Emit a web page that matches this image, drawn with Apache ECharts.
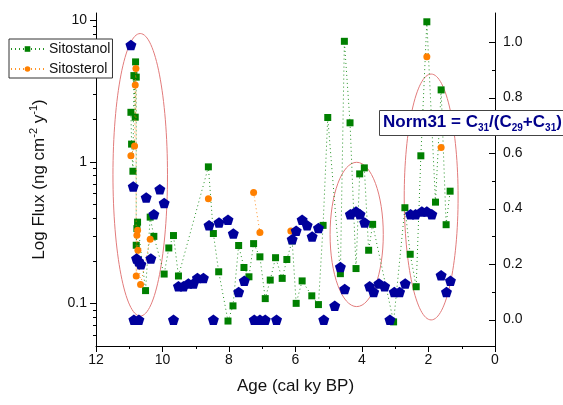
<!DOCTYPE html>
<html><head><meta charset="utf-8">
<script src="https://cdn.jsdelivr.net/npm/echarts/dist/echarts.min.js"></script>
<style>html,body{margin:0;padding:0;background:#fff}#c{width:563px;height:405px}</style>
</head><body><div id="c"></div>
<script>
// ---------------- data ----------------
const stanolAge = [10.95, 10.93, 10.89, 10.86, 10.82, 10.81, 10.79, 10.79, 10.77, 10.75, 10.51, 10.37, 10.26, 9.95, 9.81, 9.67, 9.52, 8.62, 8.47, 8.31, 8.03, 7.88, 7.71, 7.55, 7.40, 7.26, 7.07, 6.91, 6.76, 6.60, 6.40, 6.26, 6.10, 5.98, 5.80, 5.51, 5.31, 5.17, 5.03, 4.65, 4.53, 4.36, 4.18, 4.07, 3.93, 3.80, 3.68, 3.05, 2.71, 2.55, 2.37, 2.23, 2.05, 1.79, 1.62, 1.47, 1.35];
const stanolFlux = [2.23, 1.33, 0.856, 4.05, 2.06, 5.06, 3.95, 0.257, 0.337, 0.374, 0.123, 0.406, 0.297, 0.161, 0.246, 0.301, 0.156, 0.919, 0.311, 0.167, 0.075, 0.096, 0.256, 0.179, 0.154, 0.264, 0.213, 0.108, 0.146, 0.21, 0.15, 0.204, 0.276, 0.100, 0.144, 0.113, 0.098, 0.355, 2.05, 0.162, 7.07, 1.88, 0.176, 0.82, 0.904, 0.237, 0.361, 0.074, 0.473, 0.222, 0.131, 1.10, 9.71, 0.518, 3.21, 0.359, 0.619];

// null = no value (line break)
const sterolAge = [10.95, 10.84, 10.82, 10.80, 10.79, 10.77, 10.75, 10.74, 10.66, 10.37, 9.5, 8.62, 8.0, 7.26, 7.07, 6.6, 6.14, 4.0, 2.05, 1.8, 1.62];
const sterolFlux = [1.10, 1.29, 3.47, 4.54, 0.156, 0.302, 0.328, 0.237, 0.136, 0.283, null, 0.547, null, 0.606, 0.316, null, 0.324, null, 5.51, null, 1.26];

const normAge = [10.95, 10.88, 10.86, 10.78, 10.72, 10.71, 10.65, 10.49, 10.35, 10.26, 10.08, 9.95, 9.67, 9.52, 9.37, 9.22, 9.07, 8.95, 8.77, 8.60, 8.47, 8.30, 8.03, 7.87, 7.71, 7.54, 7.24, 7.07, 6.91, 6.57, 6.10, 5.98, 5.80, 5.65, 5.50, 5.31, 5.15, 4.82, 4.65, 4.52, 4.35, 4.18, 4.06, 3.92, 3.77, 3.65, 3.49, 3.32, 3.16, 3.03, 2.87, 2.70, 2.54, 2.39, 2.20, 2.05, 1.90, 1.62, 1.46, 1.34];
const norm31 = [0.99, 0.48, 0.0, 0.22, 0.21, 0.0, 0.20, 0.44, 0.22, 0.38, 0.47, 0.42, 0.0, 0.12, 0.12, 0.13, 0.13, 0.15, 0.15, 0.34, 0.0, 0.35, 0.36, 0.31, 0.10, 0.14, 0.0, 0.0, 0.0, 0.0, 0.29, 0.32, 0.36, 0.34, 0.30, 0.33, 0.0, 0.05, 0.19, 0.11, 0.38, 0.39, 0.38, 0.35, 0.12, 0.10, 0.13, 0.12, 0.0, 0.10, 0.10, 0.13, 0.38, 0.38, 0.39, 0.39, 0.38, 0.16, 0.10, 0.14];

// annotation ellipses (centre age, centre Norm31, half-width in ky, half-height in Norm31 units)
const ellipseAge = [10.67, 4.16, 1.92];
const ellipseNorm = [0.522, 0.307, 0.442];
const ellipseHalfAge = [0.82, 0.80, 0.81];
const ellipseHalfNorm = [0.509, 0.260, 0.443];

// axis ticks
const leftMajorTicks = [0.1, 1, 10];
const leftMinorTicks = [0.06, 0.07, 0.08, 0.09, 0.2, 0.3, 0.4, 0.5, 0.6, 0.7, 0.8, 0.9, 2, 3, 4, 5, 6, 7, 8, 9];
const rightMajorTicks = [0, 0.2, 0.4, 0.6, 0.8, 1.0];
const rightMinorTicks = [0.1, 0.3, 0.5, 0.7, 0.9];

// ---------------- chart ----------------
const FONT = 'Liberation Sans, Arial, sans-serif';
const GREEN = '#008000', ORANGE = '#ff8000', BLUE = '#00009c', TXT = '#111';
const AGE_MIN = 0, AGE_MAX = 12;
const PENTA = 'path://M0,-1 L0.951,-0.309 L0.588,0.809 L-0.588,0.809 L-0.951,-0.309 Z';

const pairs = (xs, ys) => xs.map((x, i) => [x, ys[i]]);

function tickSeries(vals, axisIdx, ageAt, len, dir) {
  return {
    type: 'custom', yAxisIndex: axisIdx, silent: true, clip: false, z: 3,
    data: vals.map(v => [ageAt, v]),
    renderItem: (params, api) => {
      const p = api.coord([api.value(0), api.value(1)]);
      const y = Math.round(p[1]) + 0.5;
      const x0 = Math.round(p[0]);
      return { type: 'line', shape: { x1: x0, y1: y, x2: x0 + dir * len, y2: y },
               style: { stroke: '#000', lineWidth: 1 } };
    }
  };
}

const chart = echarts.init(document.getElementById('c'), null, { renderer: 'canvas' });
chart.setOption({
  animation: false,
  textStyle: { fontFamily: FONT },
  title: {
    left: 379, top: 108,
    padding: [3, 3, 3, 4],
    borderWidth: 1, borderColor: '#444', backgroundColor: '#fff',
    text: '{a|Norm31 = C}{s|31}{a|/(C}{s|29}{a|+C}{s|31}{a|)}',
    textStyle: {
      rich: {
        a: { fontSize: 17, fontWeight: 'bold', color: '#00008b', fontFamily: FONT, lineHeight: 22 },
        s: { fontSize: 10, fontWeight: 'bold', color: '#00008b', fontFamily: FONT, lineHeight: 12, verticalAlign: 'bottom' }
      }
    },
    z: 10
  },
  legend: {
    data: ['Sitostanol', 'Sitosterol'],
    orient: 'vertical', left: 9, top: 39,
    padding: [3, 2, 2, 1], itemGap: 6, itemWidth: 33, itemHeight: 7,
    borderWidth: 1, borderColor: '#333', backgroundColor: '#fff',
    textStyle: { fontSize: 14, color: TXT, fontFamily: FONT },
    z: 10
  },
  grid: { left: 96, right: 68, top: 13, bottom: 59 },
  xAxis: {
    type: 'value', min: AGE_MIN, max: AGE_MAX, interval: 2, inverse: true,
    axisLine: { onZero: false, lineStyle: { color: '#000', width: 1 } },
    axisTick: { length: 6, lineStyle: { color: '#000' } },
    minorTick: { show: true, splitNumber: 2, length: 3, lineStyle: { color: '#000' } },
    splitLine: { show: false },
    axisLabel: { fontSize: 14, color: TXT, margin: 7, fontFamily: FONT },
    name: 'Age (cal ky BP)', nameLocation: 'middle', nameGap: 32,
    nameTextStyle: { fontSize: 17, color: TXT, fontFamily: FONT }
  },
  yAxis: [
    {
      type: 'log', logBase: 10, min: 0.05, max: 11.2, position: 'left',
      axisLine: { show: true, onZero: false, lineStyle: { color: '#000', width: 1 } },
      axisTick: { show: false }, minorTick: { show: false }, splitLine: { show: false },
      axisLabel: {
        fontSize: 14, color: TXT, margin: 9, fontFamily: FONT,
        formatter: v => {
          const l = Math.log10(v);
          return Math.abs(l - Math.round(l)) < 1e-6 ? String(+v.toPrecision(3)) : '';
        }
      },
      name: 'Log Flux (ng cm{sup|-2} y{sup|-1})', nameLocation: 'middle', nameGap: 46, nameRotate: 90,
      nameTextStyle: {
        fontSize: 17, color: TXT, fontFamily: FONT, lineHeight: 22,
        rich: { sup: { fontSize: 11, color: TXT, fontFamily: FONT, lineHeight: 12, verticalAlign: 'top' } }
      }
    },
    {
      type: 'value', min: -0.095, max: 1.105, splitNumber: 6, position: 'right',
      axisLine: { show: true, onZero: false, lineStyle: { color: '#000', width: 1 } },
      axisTick: { show: false }, minorTick: { show: false }, splitLine: { show: false },
      axisLabel: {
        fontSize: 14, color: TXT, margin: 8, fontFamily: FONT,
        formatter: v => (v > -0.001 && v < 1.001 && Math.abs(v * 5 - Math.round(v * 5)) < 1e-6) ? v.toFixed(1) : ''
      }
    }
  ],
  series: [
    {
      type: 'custom', yAxisIndex: 1, silent: true, clip: false, z: 1,
      data: ellipseAge.map((a, i) => [a, ellipseNorm[i], ellipseHalfAge[i], ellipseHalfNorm[i]]),
      renderItem: (params, api) => {
        const c = api.coord([api.value(0), api.value(1)]);
        const s = api.size([api.value(2), api.value(3)]);
        return { type: 'ellipse', shape: { cx: c[0], cy: c[1], rx: s[0], ry: s[1] },
                 style: { fill: 'none', stroke: '#e27b7b', lineWidth: 1 } };
      }
    },
    {
      name: 'Sitostanol', type: 'line', yAxisIndex: 0, data: pairs(stanolAge, stanolFlux),
      symbol: 'rect', symbolSize: 7, itemStyle: { color: GREEN },
      lineStyle: { color: GREEN, width: 1, type: [1, 3], opacity: 0.85 }, z: 4
    },
    {
      name: 'Sitosterol', type: 'line', yAxisIndex: 0, data: pairs(sterolAge, sterolFlux),
      symbol: 'circle', symbolSize: 7, itemStyle: { color: ORANGE }, connectNulls: false,
      lineStyle: { color: ORANGE, width: 1, type: [1, 3], opacity: 0.85 }, z: 5
    },
    {
      name: 'Norm31', type: 'scatter', yAxisIndex: 1, data: pairs(normAge, norm31),
      symbol: PENTA, symbolSize: [11, 10.5], itemStyle: { color: BLUE, opacity: 1 }, z: 6
    },
    tickSeries(leftMajorTicks, 0, AGE_MAX, 6, -1),
    tickSeries(leftMinorTicks, 0, AGE_MAX, 3, -1),
    tickSeries(rightMajorTicks, 1, AGE_MIN, 6, -1),
    tickSeries(rightMinorTicks, 1, AGE_MIN, 3, -1)
  ]
});
</script></body></html>
